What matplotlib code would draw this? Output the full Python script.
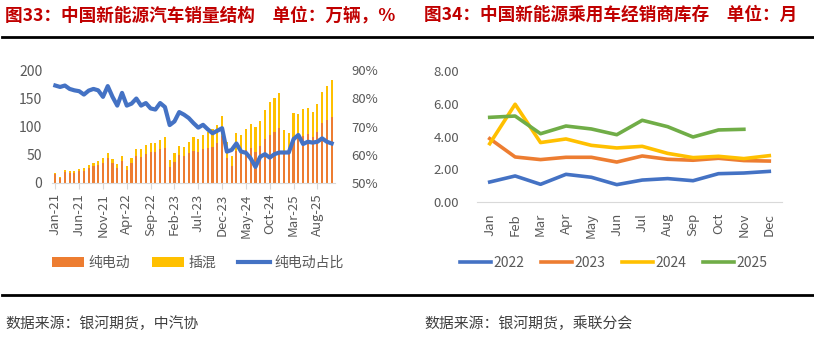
import numpy as np
import matplotlib
matplotlib.use("Agg")
import matplotlib.pyplot as plt
from matplotlib.lines import Line2D

plt.rcParams['font.family'] = ['Noto Sans CJK SC', 'DejaVu Sans']

# ---- left chart: NEV sales structure (万辆, %) ----
months = ['Jan-21', 'Feb-21', 'Mar-21', 'Apr-21', 'May-21', 'Jun-21', 'Jul-21', 'Aug-21', 'Sep-21', 'Oct-21', 'Nov-21', 'Dec-21',
          'Jan-22', 'Feb-22', 'Mar-22', 'Apr-22', 'May-22', 'Jun-22', 'Jul-22', 'Aug-22', 'Sep-22', 'Oct-22', 'Nov-22', 'Dec-22',
          'Jan-23', 'Feb-23', 'Mar-23', 'Apr-23', 'May-23', 'Jun-23', 'Jul-23', 'Aug-23', 'Sep-23', 'Oct-23', 'Nov-23', 'Dec-23',
          'Jan-24', 'Feb-24', 'Mar-24', 'Apr-24', 'May-24', 'Jun-24', 'Jul-24', 'Aug-24', 'Sep-24', 'Oct-24', 'Nov-24', 'Dec-24',
          'Jan-25', 'Feb-25', 'Mar-25', 'Apr-25', 'May-25', 'Jun-25', 'Jul-25', 'Aug-25', 'Sep-25', 'Oct-25', 'Nov-25']
total = [17.9, 11.0, 22.6, 20.6, 21.7, 25.6, 27.1, 32.1, 35.7, 38.3, 45.0, 53.1,
         43.1, 33.4, 48.4, 29.9, 44.7, 59.6, 59.3, 66.6, 70.8, 71.4, 76.8, 81.4,
         40.8, 52.5, 65.3, 63.6, 71.7, 80.6, 78.0, 84.6, 90.4, 95.6, 102.6, 119.1,
         72.9, 47.7, 88.3, 85.0, 95.5, 104.9, 99.1, 109.3, 128.7, 143.0, 151.2, 159.6,
         94.4, 89.2, 123.7, 122.6, 130.7, 132.9, 126.2, 139.5, 160.4, 171.5, 182.3]
bev = [15.1, 9.2, 19.1, 17.2, 18.0, 21.1, 22.0, 26.5, 29.7, 31.7, 36.2, 44.8,
       34.7, 25.9, 39.6, 23.1, 34.9, 47.6, 45.9, 52.1, 54.1, 54.3, 60.1, 62.6,
       28.8, 37.7, 49.0, 47.2, 52.3, 57.4, 54.3, 59.7, 62.4, 64.6, 70.3, 82.7,
       44.5, 29.4, 56.5, 51.9, 58.0, 61.6, 55.2, 64.8, 77.5, 84.4, 91.0, 97.0,
       57.4, 54.2, 81.0, 82.1, 83.4, 85.9, 81.1, 90.1, 105.5, 110.8, 116.7]
phev = [round(t - b, 1) for t, b in zip(total, bev)]
bev_share = [84.5, 84.0, 84.5, 83.3, 82.8, 82.5, 81.3, 82.7, 83.3, 82.8, 80.5, 84.3,
             80.5, 77.4, 81.9, 77.4, 78.1, 79.9, 77.4, 78.3, 76.4, 76.0, 78.3, 76.9,
             70.5, 71.8, 75.1, 74.2, 73.0, 71.2, 69.6, 70.6, 69.0, 67.6, 68.5, 69.4,
             61.1, 61.7, 64.0, 61.1, 60.7, 58.7, 55.7, 59.3, 60.2, 59.0, 60.2, 60.8,
             60.8, 60.8, 65.5, 67.0, 63.8, 64.6, 64.3, 64.6, 65.8, 64.6, 64.0]

# ---- right chart: dealer inventory (months) ----
mon_short = ['Jan', 'Feb', 'Mar', 'Apr', 'May', 'Jun', 'Jul', 'Aug', 'Sep', 'Oct', 'Nov', 'Dec']
inv = {
    '2022': [1.22, 1.59, 1.08, 1.69, 1.51, 1.06, 1.34, 1.43, 1.30, 1.73, 1.77, 1.87],
    '2023': [3.87, 2.75, 2.59, 2.73, 2.73, 2.44, 2.81, 2.61, 2.55, 2.67, 2.53, 2.50],
    '2024': [3.56, 5.97, 3.63, 3.85, 3.46, 3.30, 3.40, 2.97, 2.71, 2.79, 2.65, 2.83],
    '2025': [5.17, 5.25, 4.17, 4.64, 4.46, 4.11, 4.99, 4.60, 3.97, 4.40, 4.44, np.nan],
}
inv_colors = ['#4472C4', '#ED7D31', '#FFC000', '#70AD47']

txt = '#595959'
axis_gray = '#D9D9D9'

fig = plt.figure(figsize=(8.14, 3.37), dpi=100)

# titles, rules, sources
title_red = '#C00000'
fig.text(5 / 814, 1 - 15 / 337, '图33：中国新能源汽车销量结构　单位：万辆，%', color=title_red,
         fontsize=12.7, fontweight='bold', va='center', ha='left')
fig.text(424 / 814, 1 - 15 / 337, '图34：中国新能源乘用车经销商库存　单位：月', color=title_red,
         fontsize=12.7, fontweight='bold', va='center', ha='left')
fig.add_artist(Line2D([2 / 814, 1], [1 - 37 / 337] * 2, color='black', lw=2, transform=fig.transFigure))
fig.add_artist(Line2D([2 / 814, 1], [1 - 295 / 337] * 2, color='black', lw=2, transform=fig.transFigure))
fig.text(5 / 814, 1 - 324 / 337, '数据来源：银河期货，中汽协', color='#404040', fontsize=10.7, va='center')
fig.text(424 / 814, 1 - 324 / 337, '数据来源：银河期货，乘联分会', color='#404040', fontsize=10.7, va='center')

# left chart
ax = fig.add_axes([52 / 814, 1 - 183 / 337, 283 / 814, 113 / 337])
x = np.arange(len(months))
ax.bar(x, bev, width=0.45, color='#ED7D31', label='纯电动', zorder=2)
ax.bar(x, phev, width=0.45, bottom=bev, color='#FFC000', label='插混', zorder=2)
ax.set_ylim(0, 200)
ax.set_yticks([0, 50, 100, 150, 200])
ax.set_xlim(-0.7, len(months) - 0.3)
ax.set_xticks(x[::5])
ax.set_xticklabels(months[::5], rotation=90)
for s in ['top', 'right', 'left']:
    ax.spines[s].set_visible(False)
ax.spines['bottom'].set_color(axis_gray)
ax.tick_params(axis='y', length=0, labelsize=10, colors=txt, pad=7)
ax.tick_params(axis='x', length=4, color=axis_gray, labelsize=9.5, colors=txt)

ax2 = ax.twinx()
ax2.plot(x, bev_share, color='#4472C4', lw=3, label='纯电动占比', zorder=3)
ax2.set_ylim(50, 90)
ax2.set_yticks([50, 60, 70, 80, 90])
ax2.set_yticklabels([f'{v}%' for v in [50, 60, 70, 80, 90]])
for s in ['top', 'right', 'left', 'bottom']:
    ax2.spines[s].set_visible(False)
ax2.tick_params(axis='y', length=0, labelsize=9.5, colors=txt, pad=12)

h1, l1 = ax.get_legend_handles_labels()
h2, l2 = ax2.get_legend_handles_labels()
fig.legend(h1 + h2, l1 + l2, loc='center', bbox_to_anchor=(198 / 814, 1 - 263 / 337), ncol=3,
           frameon=False, fontsize=10, labelcolor=txt, handlelength=2.3, handletextpad=0.3,
           columnspacing=1.6)

# right chart
axr = fig.add_axes([477 / 814, 1 - 202 / 337, 305 / 814, 131 / 337])
xr = np.arange(len(mon_short))
for (yr, vals), c in zip(inv.items(), inv_colors):
    axr.plot(xr, vals, color=c, lw=2.6, label=yr)
axr.set_ylim(0, 8)
axr.set_yticks([0, 2, 4, 6, 8])
axr.set_yticklabels([f'{v:.2f}' for v in [0, 2, 4, 6, 8]])
axr.set_xlim(-0.5, 11.5)
axr.set_xticks(xr)
axr.set_xticklabels(mon_short, rotation=90)
for s in ['top', 'right', 'left']:
    axr.spines[s].set_visible(False)
axr.spines['bottom'].set_color(axis_gray)
axr.tick_params(axis='y', length=0, labelsize=9.5, colors=txt, pad=13)
axr.tick_params(axis='x', length=0, labelsize=9.5, colors=txt, pad=8)
axr.legend(loc='center', bbox_to_anchor=(614 / 814, 1 - 263 / 337), bbox_transform=fig.transFigure,
           ncol=4, frameon=False, fontsize=10, labelcolor=txt, handlelength=2.2, handletextpad=0.2,
           columnspacing=1.2)

fig.savefig('out.png', dpi=100)
